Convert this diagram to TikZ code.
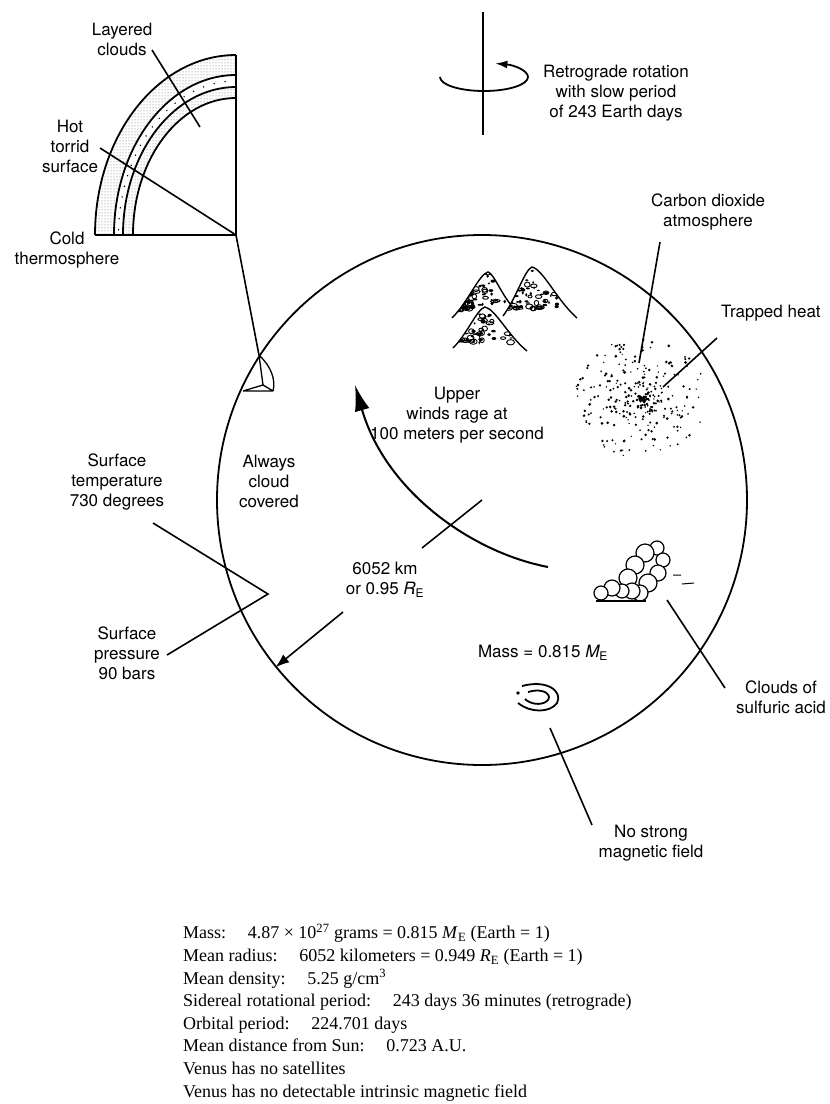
\documentclass[tikz,border=0pt]{standalone}
\usepackage{amsmath}
\usepackage{fontspec}
\setmainfont{Liberation Serif}
\setsansfont{TeX Gyre Heros}
\usetikzlibrary{arrows.meta,patterns}

\newcommand{\lblfont}{\sffamily\fontsize{17}{20}\selectfont}

% one mountain: apex x/y, left foot x/y, right foot x/y
\newcommand{\peakpath}[6]{(#3,#4) .. controls ({#3+0.45*(#1-#3)},{#4-0.35*(#4-#2)}) and ({#1-0.25*(#1-#3)},{#2+0.05*(#4-#2)}) .. (#1,#2)
    .. controls ({#1+0.25*(#5-#1)},{#2+0.05*(#6-#2)}) and ({#5-0.45*(#5-#1)},{#6-0.35*(#6-#2)}) .. (#5,#6)}
\newcommand{\peak}[6]{%
  \path[fill=white] \peakpath{#1}{#2}{#3}{#4}{#5}{#6} -- cycle;
  \begin{scope}
    \clip \peakpath{#1}{#2}{#3}{#4}{#5}{#6} -- cycle;
    \foreach \k in {1,...,60}{
      \pgfmathsetmacro{\u}{0.85*rnd}
      \pgfmathsetmacro{\v}{rnd*(0.85-\u)}
      \pgfmathsetmacro{\sx}{#1+\u*(#3-#1)+\v*(#5-#1)}
      \pgfmathsetmacro{\sy}{#2+\u*(#4-#2)+\v*(#6-#2)}
      \ifnum\numexpr\k-3*(\k/3)\relax=0
        \draw[line width=0.9pt] (\sx,\sy) ellipse[x radius=2+2*rnd,y radius=1.2+1.5*rnd];
      \else
        \fill (\sx,\sy) ellipse[x radius=0.8+1.8*rnd,y radius=0.6+1.4*rnd];
      \fi
    }
  \end{scope}
  \draw[line width=1.4pt] \peakpath{#1}{#2}{#3}{#4}{#5}{#6};
}

\begin{document}
\begin{tikzpicture}[x=1pt,y=-1pt,
    lbl/.style={font=\lblfont,align=center,inner sep=0pt},
    ink/.style={line width=1.8pt},
    leader/.style={line width=1.6pt},
    band/.style={pattern=dots,pattern color=black!60}]
  \useasboundingbox (0,0) rectangle (830,1104);
  \pgfmathsetseed{17}

  % ends of the leader lines
  \coordinate (vtx) at (236,235);
  \coordinate (layA) at (152,50);   \coordinate (layB) at (200,127);
  \coordinate (hotA) at (100,148);
  \coordinate (co2A) at (660,242);  \coordinate (co2B) at (639,363);
  \coordinate (heatA) at (717,338); \coordinate (heatB) at (663,387);
  \coordinate (tempA) at (153,523); \coordinate (zig) at (268,594);
  \coordinate (presA) at (167,655);
  \coordinate (radA) at (422,548);  \coordinate (radB) at (343,612);
  \coordinate (windA) at (548,567); \coordinate (windB) at (355,385);
  \coordinate (sulA) at (667,600);  \coordinate (sulB) at (725,688);
  \coordinate (magA) at (550,728);  \coordinate (magB) at (592,825);

  % spin axis
  \draw[ink] (483,12) -- (483,135);
  \draw[ink,-{Latex[length=12pt,width=8pt]}] (440,77) arc[start angle=180,end angle=-75,x radius=44,y radius=14];
  \node[lbl] (rot) at (616,93) {Retrograde rotation\\with slow period\\of 243 Earth days};

  % quarter section of the atmosphere
  \fill[band] (236,55) arc[start angle=-90,end angle=-180,x radius=141,y radius=180]
    -- (114,235) arc[start angle=-180,end angle=-90,x radius=122,y radius=160] -- cycle;
  \fill[band] (236,87) arc[start angle=-90,end angle=-180,x radius=113,y radius=148]
    -- (133,235) arc[start angle=-180,end angle=-90,x radius=103,y radius=137] -- cycle;
  \draw[line width=1.6pt,line cap=round,dash pattern=on 0pt off 11pt]
    (236,81) arc[start angle=-90,end angle=-180,x radius=117.5,y radius=154];
  \foreach \rx/\ry in {141/180,122/160,113/148,103/137}
    \draw[ink] (236,235-\ry) arc[start angle=-90,end angle=-180,x radius=\rx,y radius=\ry];
  \draw[ink] (236,55) -- (vtx) -- (95,235);
  \node[lbl] (layered) at (122,39) {Layered\\clouds};
  \node[lbl] (hot) at (70,146) {Hot\\torrid\\surface};
  \node[lbl] (cold) at (67,250) {Cold\\thermosphere};
  \draw[leader] (layA) -- (layB);
  \draw[leader] (hotA) -- (vtx);

  % the planet
  \node[draw,circle,ink,minimum size=530pt,inner sep=0pt] (venus) at (482,500) {};
  \draw[leader] (vtx) -- (venus.147);

  % small wedge cut from the limb
  \coordinate (wA) at (venus.147);
  \coordinate (wL) at (243,391);
  \coordinate (wR) at (273,391);
  \coordinate (wC) at (263,385);
  \draw[line width=1.3pt,line join=round] (wA) .. controls (271,366) and (276,380) .. (wR) -- (wL)
    (wA) -- (wC) -- (wL) (wC) -- (wR);

  % mountains
  \peak{488}{272}{452}{318}{512}{306}
  \peak{532}{267}{503}{316}{577}{318}
  \peak{485}{307}{453}{348}{527}{351}

  % carbon dioxide haze
  \foreach \i in {1,...,300}{
    \pgfmathsetmacro{\ang}{360*rnd}
    \pgfmathsetmacro{\rad}{66*rnd^1.15}
    \fill ({641+\rad*cos(\ang)},{399+0.92*\rad*sin(\ang)}) circle[radius=0.7+0.8*rnd];
  }
  \node[lbl] (co2) at (708,212) {Carbon dioxide\\atmosphere};
  \node[lbl,anchor=west] (heat) at (721,313) {Trapped heat};
  \draw[leader] (co2A) -- (co2B);
  \draw[leader] (heatA) -- (heatB);

  % winds
  \draw[line width=2pt,-{Latex[length=26pt,width=15pt]}] (windA) .. controls (470,552) and (385,490) .. (windB);
  \node[lbl] (winds) at (457,415) {Upper\\winds rage at\\100 meters per second};
  \node[lbl] (always) at (269,481) {Always\\cloud\\covered};

  % radius
  \node[lbl] (radius) at (385,580) {6052 km\\or 0.95 {\itshape R}\textsubscript{E}};
  \draw[leader] (venus.center) -- (radA);
  \draw[leader,-{Latex[length=14pt,width=10pt]}] (radB) -- (venus.219);

  % surface conditions
  \node[lbl] (temp) at (117,482) {Surface\\temperature\\730 degrees};
  \node[lbl] (pres) at (127,653) {Surface\\pressure\\90 bars};
  \draw[leader,line join=miter] (tempA) -- (zig) -- (presA);

  % sulfuric acid cloud
  \begin{scope}
    \clip (580,530) rectangle (700,601);
    \foreach \cx/\cy/\cr in {657/548/7,663/560/7,645/553/9,658/573/8,635/565/9,648/583/9,
        628/578/9,640/593/8,632/591/8,622/591/7,612/588/8,601/593/7}
      \draw[line width=1.2pt,fill=white] (\cx,\cy) circle[radius=\cr];
  \end{scope}
  \draw[line width=1.3pt] (596,601) -- (646,601);
  \draw[line width=1pt] (673,575) -- (681,575) (682,584) -- (694,583);
  \node[lbl] (sulfuric) at (781,697) {Clouds of\\sulfuric acid};
  \draw[leader] (sulA) -- (sulB);

  % mass and magnetism
  \node[lbl] (mass) at (543,653) {Mass = 0.815 {\itshape M}\textsubscript{E}};
  \draw[line width=1.8pt] (522,686) .. controls (548,679) and (563,692) .. (557,703)
    .. controls (550,713) and (530,713) .. (518,703);
  \draw[line width=1.8pt] (528,692) .. controls (545,687) and (553,696) .. (547,701)
    .. controls (541,706) and (530,704) .. (525,699);
  \fill (518,693) circle[radius=1.8];
  \node[lbl] (magnetic) at (651,843) {No strong\\magnetic field};
  \draw[leader] (magA) -- (magB);

  % data table
  \node[anchor=north west,align=left,inner sep=0pt,font=\fontsize{18}{22.6}\selectfont] (facts) at (183,924) {%
    Mass:\hspace{1.2em}4.87 × 10\textsuperscript{27} grams = 0.815 \textit{M}\textsubscript{E} (Earth = 1)\\
    Mean radius:\hspace{1.2em}6052 kilometers = 0.949 \textit{R}\textsubscript{E} (Earth = 1)\\
    Mean density:\hspace{1.2em}5.25 g/cm\textsuperscript{3}\\
    Sidereal rotational period:\hspace{1.2em}243 days 36 minutes (retrograde)\\
    Orbital period:\hspace{1.2em}224.701 days\\
    Mean distance from Sun:\hspace{1.2em}0.723 A.U.\\
    Venus has no satellites\\
    Venus has no detectable intrinsic magnetic field};
\end{tikzpicture}
\end{document}
